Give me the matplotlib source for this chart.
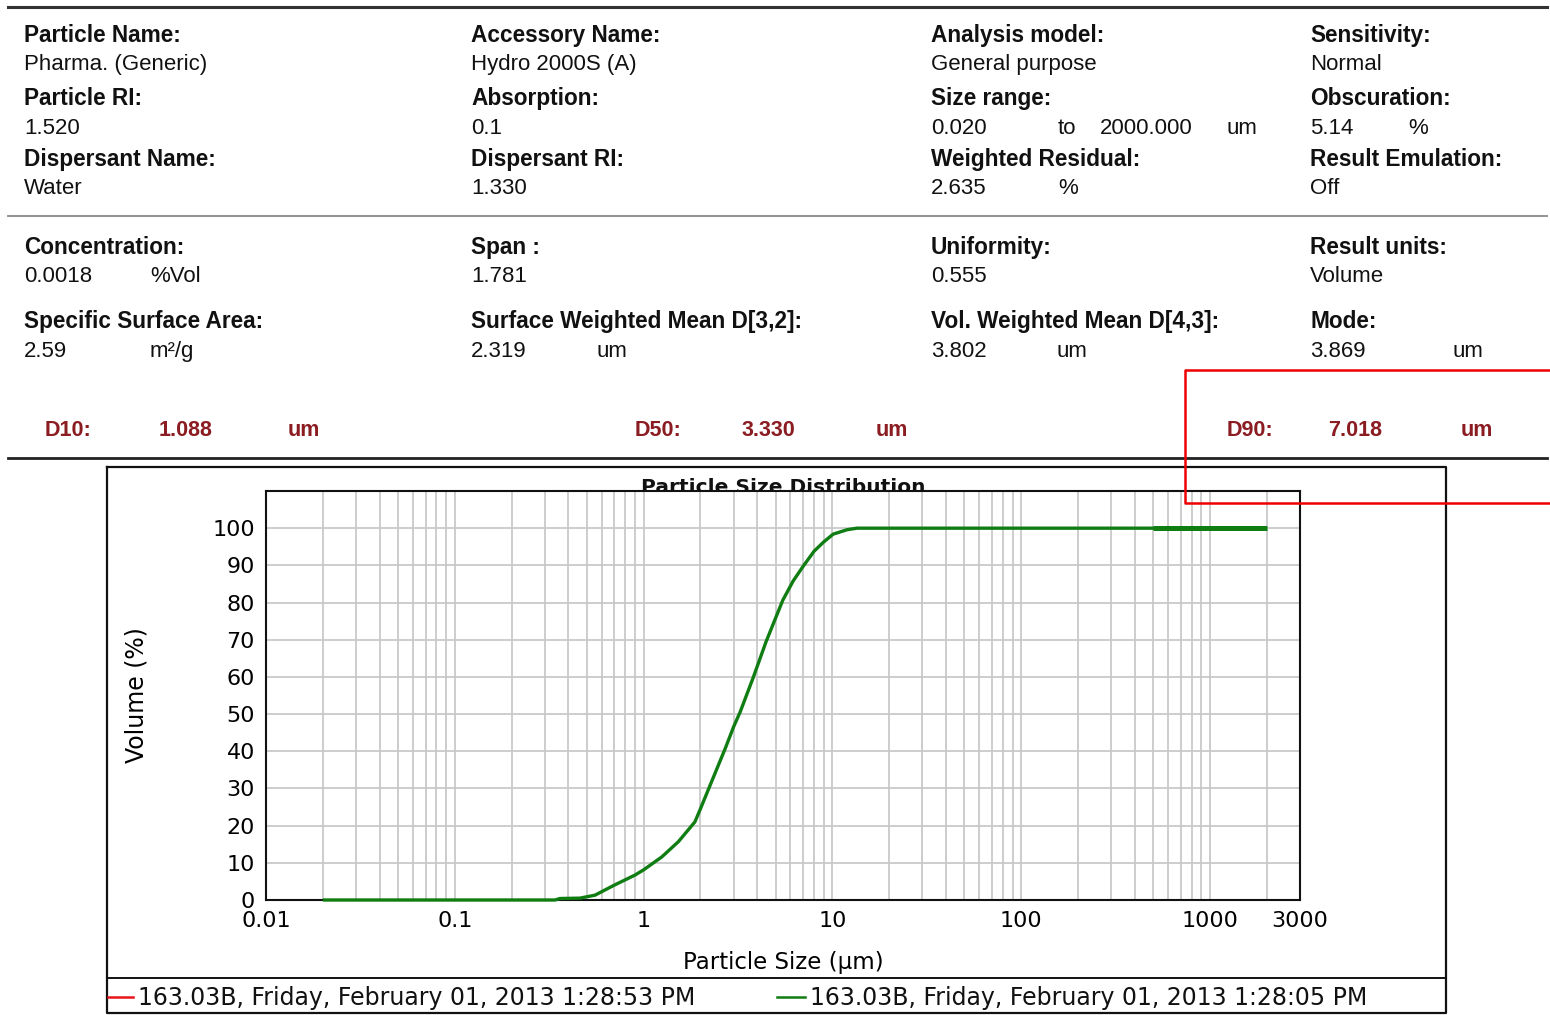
import numpy as np
import matplotlib
matplotlib.use("Agg")
import matplotlib.pyplot as plt
from matplotlib.ticker import LogLocator, NullFormatter, FixedLocator, FixedFormatter

W, H = 1550, 1015

# ---- report header -------------------------------------------------------
block1_labels = [
    ["Particle Name:", "Accessory Name:", "Analysis model:", "Sensitivity:"],
    ["Particle RI:", "Absorption:", "Size range:", "Obscuration:"],
    ["Dispersant Name:", "Dispersant RI:", "Weighted Residual:", "Result Emulation:"],
]
block1_values = [
    [["Pharma. (Generic)"], ["Hydro 2000S (A)"], ["General purpose"], ["Normal"]],
    [["1.520"], ["0.1"], ["0.020", "to", "2000.000", "um"], ["5.14", "%"]],
    [["Water"], ["1.330"], ["2.635", "%"], ["Off"]],
]
block2_labels = [
    ["Concentration:", "Span :", "Uniformity:", "Result units:"],
    ["Specific Surface Area:", "Surface Weighted Mean D[3,2]:",
     "Vol. Weighted Mean D[4,3]:", "Mode:"],
]
block2_values = [
    [["0.0018", "%Vol"], ["1.781"], ["0.555"], ["Volume"]],
    [["2.59", "m²/g"], ["2.319", "um"], ["3.802", "um"], ["3.869", "um"]],
]
d_names = ["D10:", "D50:", "D90:"]
d_values = ["1.088", "3.330", "7.018"]
d_unit = "um"

# ---- cumulative volume curve ------------------------------------------------
size_um = [0.02, 0.34, 0.36, 0.46, 0.553, 0.7, 0.9, 1.0, 1.25, 1.53, 1.87,
           2.0, 2.3, 2.71, 3.0, 3.25, 3.82, 4.45, 5.46, 6.2, 6.97, 8.0, 9.0,
           10.1, 12.0, 13.5, 2000.0]
volume_pct = [0.0, 0.0, 0.4, 0.5, 1.3, 4.0, 6.7, 8.1, 11.6, 15.7, 21.0,
              24.5, 32.0, 40.8, 46.6, 50.6, 60.0, 69.4, 80.6, 85.8, 89.6, 93.8, 96.3,
              98.4, 99.6, 100.0, 100.0]
overlap_um = [500.0, 2000.0]          # stretch where both records sit on top of each other
legend_entries = ["163.03B, Friday, February 01, 2013 1:28:53 PM",
                  "163.03B, Friday, February 01, 2013 1:28:05 PM"]
legend_colors = ["#e8141a", "#0f7d12"]
x_ticks = [0.01, 0.1, 1, 10, 100, 1000, 3000]
x_tick_labels = ["0.01", "0.1", "1", "10", "100", "1000", "3000"]
y_ticks = list(range(0, 101, 10))

HEAD_FONT = "Liberation Sans"
CHART_FONT = "DejaVu Sans"
DARK_RED = "#8a1c22"


def fx(x):
    return x / W


def fy(y):
    return 1 - y / H


fig = plt.figure(figsize=(W / 100, H / 100), dpi=100)

# page layer in pixel coordinates (y down)
bg = fig.add_axes([0, 0, 1, 1], zorder=0)
bg.set_xlim(0, W)
bg.set_ylim(H, 0)
bg.axis("off")

col_x = [24, 471, 931, 1310]
piece_dx = {(1, 2): [0, 127, 169, 295], (1, 3): [0, 98], (2, 2): [0, 127]}
block2_dx = {(1, 3): [0, 142]}


def header_block(labels, values, rows_y, dx_map):
    for r, (lab_row, val_row) in enumerate(zip(labels, values)):
        ly, vy = rows_y[r]
        for c, x in enumerate(col_x):
            bg.text(x, ly, lab_row[c], fontsize=16.3, fontweight="bold",
                    family=HEAD_FONT, va="baseline", color="#111111")
            offs = dx_map.get((r, c), [0, 126, 0, 0])
            for piece, d in zip(val_row[c], offs):
                bg.text(x + d, vy, piece, fontsize=16, family=HEAD_FONT,
                        va="baseline", color="#111111")


header_block(block1_labels, block1_values, [(42, 70), (105, 134), (166, 194)], piece_dx)
header_block(block2_labels, block2_values, [(254, 282), (328, 357)], block2_dx)

d_x = [(45, 159, 288), (635, 742, 876), (1227, 1328, 1461)]
for name, val, (x0, x1, x2) in zip(d_names, d_values, d_x):
    for x, s in ((x0, name), (x1, val), (x2, d_unit)):
        bg.text(x, 436, s, fontsize=15.5, fontweight="bold", family=HEAD_FONT,
                va="baseline", color=DARK_RED)

bg.plot([8, 1547], [7, 7], color="#333333", lw=2.2)
bg.plot([8, 1547], [216, 216], color="#888888", lw=1.3)
bg.plot([8, 1547], [458, 458], color="#222222", lw=2.0)

# chart frame and legend strip
bg.plot([107, 1446, 1446, 107, 107], [467, 467, 1013, 1013, 467], color="#111111", lw=1.6)
bg.plot([107, 1446], [978, 978], color="#111111", lw=1.4)
bg.text(783, 493, "Particle Size Distribution", fontsize=14.5, fontweight="bold",
        family=CHART_FONT, ha="center", va="baseline", color="#111111")
for (x0, x1, tx), lab, col in zip([(108, 133, 138), (777, 805, 810)], legend_entries, legend_colors):
    bg.plot([x0, x1], [997, 997], color=col, lw=1.8)
    bg.text(tx, 1005, lab, fontsize=17, family=CHART_FONT, va="baseline", color="#111111")

# ---- chart ---------------------------------------------------------------
ax = fig.add_axes([fx(266), fy(900), (1300 - 266) / W, (900 - 491) / H], zorder=1)
ax.set_facecolor("white")
ax.set_xscale("log")
ax.set_xlim(0.01, 3000)
ax.set_ylim(0, 110)
ax.xaxis.set_major_locator(FixedLocator(x_ticks))
ax.xaxis.set_major_formatter(FixedFormatter(x_tick_labels))
ax.xaxis.set_minor_locator(LogLocator(base=10, subs=np.arange(2, 10)))
ax.xaxis.set_minor_formatter(NullFormatter())
ax.set_yticks(y_ticks)
ax.grid(True, which="both", axis="x", color="#c9c9c9", lw=1.3)
ax.grid(True, which="major", axis="y", color="#c9c9c9", lw=1.3)
ax.set_axisbelow(True)
ax.tick_params(which="both", length=0, labelsize=16, pad=8)
for lab in ax.get_xticklabels() + ax.get_yticklabels():
    lab.set_family(CHART_FONT)
for sp in ax.spines.values():
    sp.set_color("#111111")
    sp.set_linewidth(1.5)

ax.plot(size_um, volume_pct, color=legend_colors[1], lw=2.4, clip_on=False, zorder=5,
        solid_capstyle="butt", solid_joinstyle="round")
ax.plot(overlap_um, [100, 100], color=legend_colors[1], lw=3.6, zorder=5, solid_capstyle="butt")

ax.set_xlabel("Particle Size (µm)", fontsize=16.5, family=CHART_FONT, labelpad=14)
ax.set_ylabel("Volume (%)", fontsize=17, family=CHART_FONT, labelpad=46)

# red highlight box over the D90 value
top = fig.add_axes([0, 0, 1, 1], zorder=2)
top.set_xlim(0, W)
top.set_ylim(H, 0)
top.axis("off")
top.plot([1552, 1185, 1185, 1552], [370, 370, 503, 503], color="#ee0000", lw=1.8,
         clip_on=False)

fig.savefig("out.png", dpi=100)
